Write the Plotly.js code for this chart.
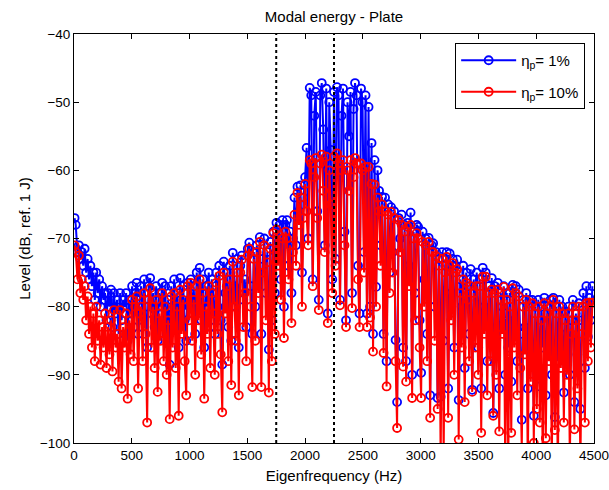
<!DOCTYPE html>
<html>
<head>
<meta charset="utf-8">
<script src="https://cdn.plot.ly/plotly-3.0.1.min.js"></script>
<style>
html,body{margin:0;padding:0;background:#fff;}
#chart{width:609px;height:490px;}
</style>
</head>
<body>
<div id="chart"></div>
<script>
// Eigenfrequencies (Hz)
var freq = [
5,15,30,42,55,68,80,92,105,118,130,142,155,168,180,192,205,218,230,243,
256,268,281,294,307,320,333,346,360,373,386,399,412,425,438,451,464,477,490,
503,516,529,542,555,568,581,594,607,620,633,646,659,672,685,698,711,724,737,
750,763,776,789,802,815,828,841,854,867,880,893,906,919,932,945,958,971,984,997,
1010,1023,1036,1049,1062,1075,1088,1101,1114,1127,1140,1153,1166,1179,1192,1205,1218,1231,1244,
1257,1270,1283,1296,1309,1322,1335,1348,1361,1374,1387,1400,1413,1426,1439,1452,1465,1478,1491,
1504,1517,1530,1543,1556,1569,1582,1595,1608,1621,1634,1647,1660,1673,1686,1699,1712,1725,1738,
1752,1765,1778,1791,1804,1817,1830,1843,1856,1869,1882,1895,1908,1921,1934,1947,1960,1973,1986,
2000,2013,2026,2040,2053,2066,2079,2092,2105,2118,2131,2144,2157,2170,2183,2196,2209,2222,2235,
2250,2263,2276,2289,2302,2315,2328,2341,2354,2367,2380,2393,2406,2419,2432,2445,2458,2471,2484,
2497,2510,2523,2536,2549,2562,2575,2588,2601,2614,2627,2640,2653,2666,2679,2692,2705,2718,2731,2744,
2757,2770,2783,2796,2809,2822,2835,2848,2861,2874,2887,2900,2913,2926,2939,2952,2965,2978,2991,
3004,3017,3030,3043,3056,3069,3082,3095,3108,3121,3134,3147,3160,3173,3186,3199,3212,3225,3238,
3251,3264,3277,3290,3303,3316,3329,3342,3355,3368,3381,3394,3407,3420,3433,3446,3459,3472,3485,
3498,3511,3524,3537,3550,3563,3576,3589,3602,3615,3628,3641,3654,3667,3680,3693,3706,3719,3732,3745,
3758,3771,3784,3797,3810,3823,3836,3849,3862,3875,3888,3901,3914,3927,3940,3953,3966,3979,
3992,4005,4018,4031,4044,4057,4070,4083,4096,4109,4122,4135,4148,4161,4174,4187,4200,4213,4226,4239,
4252,4265,4278,4291,4304,4317,4330,4343,4356,4369,4382,4395,4408,4421,4434,4447,4460,4473,4486
];
// Modal energy, eta_p = 1% (dB ref 1 J)
var level1 = [
-67,-68,-72,-71,-73,-72,-74,-71.5,-75,-73,-76,-74,-77,-75,-79,-75,-78,-76,-80,-77,
-79,-78,-82,-78,-80,-77.5,-83,-78,-81,-79,-84,-78,-82,-79,-80,-78,-85,-79,-81,
-77,-83,-78,-76.5,-84,-79,-77,-82,-76,-80,-86,-77,-75.8,-81,-78,-83,-77,-85,-78,
-80,-76.5,-82,-77,-84,-79,-88.5,-77,-81,-76,-83,-78,-86,-75.8,-80,-77,-82,-85,-76.5,-79,
-76,-81,-77,-84,-75,-79,-74.3,-82,-76,-86,-77,-80,-75,-83,-76,-78,-84,-75,-80,
-74,-82,-88.5,-73.4,-78,-75,-83,-74,-85,-72.1,-77,-80,-73,-86,-74,-72.5,-79,-76,-83,
-71.5,-70.6,-77,-84,-72,-80,-71,-75,-69.8,-84,-73,-70,-78,-72,-86.3,-70.5,-82,-69,-78,
-67.7,-72,-68,-76,-67.3,-80,-68,-67.3,-74,-69,-78,-70,-64,-71,-62.4,-66,-62.2,-75,-64,
-61,-56.7,-70,-47.9,-49,-76,-52,-48.5,-66,-79,-49,-47.2,-54,-71,-48,-81,-50,-57,-76,
-48.5,-73,-47.8,-49,-79,-52,-48,-69,-82,-50,-55,-48.5,-78,-51,-47.2,-49,-74,-81,-48,
-50,-72,-49,-81,-50.7,-80,-56,-84,-58.5,-77.1,-60,-63,-71,-63.9,-84,-64,-88,-65,-75,-65.4,
-72,-66,-84.9,-94,-67,-70,-66.5,-86,-68,-88,-67.7,-74,-66.2,-90,-69,-78,-68,-68.3,-82,
-89.7,-69,-76,-70,-84,-69.9,-93,-71,-70.7,-80,-72,-93.4,-73,-93.2,-72,-85,-74,-72,-92,
-72.2,-78,-73,-86,-74,-73.1,-93.7,-76,-80,-74,-89,-75,-77,-84,-74.5,-92.2,-76,-82,-75,
-86,-76,-92,-74.3,-80,-75,-88,-77,-83,-75.8,-95.6,-77,-85,-76.5,-92,-78,-80,-77,-90,-78,
-86,-78,-91,-76.8,-82,-77,-88,-77.5,-84,-96.6,-79,-83,-78,-92,-79,-86,-79,-96,
-80,-88,-79,-91.7,-80,-86,-78.7,-93,-80,-84,-79,-90,-78.7,-96.2,-80,-88,-79,-84,-80,-92.6,
-80.7,-86,-80,-90,-82,-79,-94,-81,-87,-79.5,-95,-82,-78,-89,-77,-84.4,-78.7,-82,-77
];
// Modal energy, eta_p = 10% (dB ref 1 J)
var level10 = [
-71,-72,-76,-72.5,-78,-76,-79,-77,-82,-78.5,-84,-80,-86,-81,-88,-80,-85,-82,-88.5,-83,
-86,-81,-89,-83,-87,-82,-89.5,-80.5,-86,-84,-91,-80.5,-92,-83,-86,-81,-93.5,-82,-87,
-79,-88,-80,-78.5,-92,-81,-80,-88,-78,-84,-97,-79,-77.3,-86,-80,-89,-79,-92.5,-81,
-85,-78,-88,-80,-90,-82,-96.5,-78.5,-86,-78,-89,-80,-96,-77.5,-84,-79,-88,-93,-77,-82,
-76.5,-85,-79,-90,-77,-82,-76,-87,-78,-93.5,-80,-84,-77,-89,-78,-81,-90,-76.5,-84,
-75.5,-87,-95.5,-75,-81,-77,-88,-76,-91.5,-73.4,-80,-85,-75,-93,-75,-73.1,-83,-78,-88,
-72.5,-71.5,-80,-91.8,-73,-85,-72,-78,-70.5,-91.8,-75,-71,-82,-73.5,-92.6,-71.5,-88,-69.2,-84,
-68.7,-74,-69.5,-79,-70,-84.6,-69,-70,-76,-71,-82.4,-72,-66.5,-74,-63.3,-68,-64,-80,-67,
-62,-66,-71,-58.5,-59,-77,-61,-58.2,-67,-80.5,-59,-57.7,-63,-72,-58,-82.4,-60,-65,-78,
-58,-74,-57.5,-59,-79.8,-60,-58.5,-71,-83,-60,-63,-58.5,-80.2,-61,-58.2,-59,-76,-83,-59,
-60,-75,-59.5,-83,-59.5,-81.6,-62,-86.6,-62.1,-80,-64,-66,-74,-65,-86.8,-66,-91.7,-66.5,-78,-66.1,
-75,-67,-88,-97.8,-67.3,-72,-68,-88.8,-69,-91,-68.3,-77,-68,-93.4,-70,-82,-69.2,-70,-86,
-93.4,-70.5,-80,-71,-88,-70.5,-96.3,-72,-72,-85,-72.6,-95,-74,-103,-73,-102,-75,-72.7,-96.3,
-74,-82,-73.6,-90,-75,-74.5,-99.5,-78,-86,-76,-94,-76.5,-79,-88,-77,-92.5,-78,-86,-77,
-90,-77,-98.5,-75.6,-84,-75.6,-93,-78,-88,-77.5,-96,-78,-90,-77.5,-98.3,-79,-84,-77.1,-104,-79,
-103,-80,-98.5,-77.3,-86,-78,-93,-78.5,-89,-101,-80,-87,-79,-104,-80,-91,-79.5,-100,
-81,-95,-80,-97,-82,-104,-79.5,-99.3,-81,-88,-80,-103,-79,-98.1,-81,-105,-80,-89,-81,-97,
-82,-90,-81,-103,-84,-80,-98,-82,-92,-80,-104,-84,-80,-97,-79.5,-88,-79.4,-86,-79.4
];
// Excitation band edges (Hz) and axis ranges
var bandEdges = [1750, 2250];
var yRange = [-100, -40];
var xRange = [0, 4500];
var seriesNames = ['&#951;<sub>p</sub>= 1%', '&#951;<sub>p</sub>= 10%'];

var FONT = 'Liberation Sans, Arial, Helvetica, sans-serif';
var FS = 15;
var TFS = 13.5;

var traces = [
  {x: freq, y: level1, name: seriesNames[0], legendgroup: 'a', type: 'scatter', mode: 'lines+markers',
   line: {color: '#0000ff', width: 2},
   marker: {symbol: 'circle-open', size: 8, color: '#0000ff', line: {width: 1.8, color: '#0000ff'}}},
  {x: freq, y: level10, name: seriesNames[1], legendgroup: 'b', type: 'scatter', mode: 'lines+markers',
   line: {color: '#ff0000', width: 2},
   marker: {symbol: 'circle-open', size: 8, color: '#ff0000', line: {width: 1.8, color: '#ff0000'}}}
];
bandEdges.forEach(function (f) {
  traces.push({x: [f, f], y: yRange, type: 'scatter', mode: 'lines', showlegend: false,
    hoverinfo: 'skip', line: {color: '#000000', width: 2, dash: 'dot'}});
});

var axisCommon = {
  showline: true, linecolor: '#000', linewidth: 1, mirror: 'ticks',
  ticks: 'inside', ticklen: 5, tickcolor: '#000', tickwidth: 1,
  showgrid: false, zeroline: false, ticklabeloverflow: 'allow',
  tickfont: {family: FONT, size: TFS, color: '#000'}
};

var layout = {
  width: 609, height: 490,
  margin: {l: 74, r: 15, t: 34, b: 47},
  paper_bgcolor: '#fff', plot_bgcolor: '#fff',
  font: {family: FONT, size: FS, color: '#000'},
  title: {text: 'Modal energy - Plate', font: {family: FONT, size: FS, color: '#000'},
          x: 0.5, xref: 'paper', xanchor: 'center', y: 0.965, yref: 'container', yanchor: 'middle'},
  xaxis: Object.assign({}, axisCommon, {
    range: xRange, tickmode: 'linear', tick0: 0, dtick: 500,
    title: {text: 'Eigenfrequency (Hz)', font: {family: FONT, size: FS, color: '#000'}, standoff: 8}
  }),
  yaxis: Object.assign({}, axisCommon, {
    range: yRange, tickmode: 'linear', tick0: -100, dtick: 10,
    title: {text: 'Level (dB, ref. 1 J)', font: {family: FONT, size: FS, color: '#000'}, standoff: 5}
  }),
  showlegend: true,
  legend: {x: 0.733, y: 0.978, xanchor: 'left', yanchor: 'top', xref: 'paper', yref: 'paper',
    bgcolor: '#fff', bordercolor: '#000', borderwidth: 1, itemwidth: 55,
    traceorder: 'grouped', tracegroupgap: 9,
    font: {family: FONT, size: FS, color: '#000'}}
};

Plotly.newPlot('chart', traces, layout, {staticPlot: true, displayModeBar: false});
</script>
</body>
</html>
